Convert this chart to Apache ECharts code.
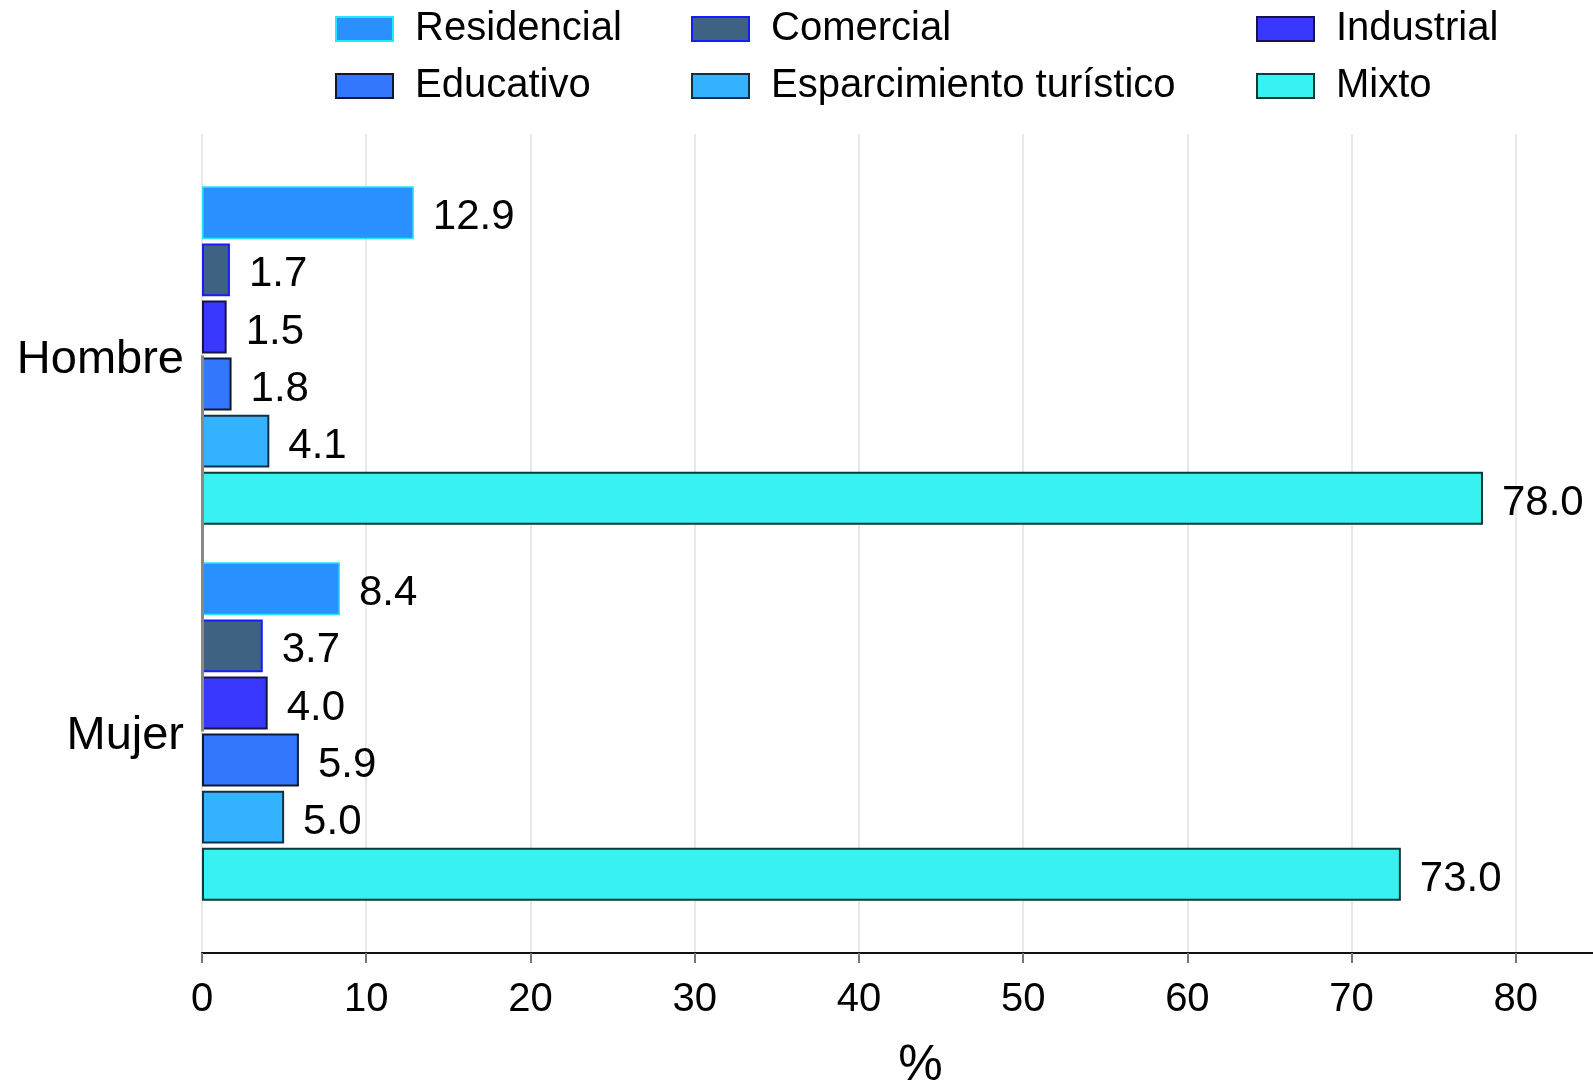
<!DOCTYPE html>
<html>
<head>
<meta charset="utf-8">
<script src="https://cdn.jsdelivr.net/npm/echarts@6/dist/echarts.min.js"></script>
<style>
html,body{margin:0;padding:0;background:#fff;}
#chart{width:1593px;height:1086px;}
</style>
</head>
<body>
<div id="chart"></div>
<script>
const categories = ['Hombre', 'Mujer'];
const seriesNames = ['Residencial', 'Comercial', 'Industrial', 'Educativo', 'Esparcimiento turístico', 'Mixto'];
const residencial = [12.9, 8.4];
const comercial = [1.7, 3.7];
const industrial = [1.5, 4.0];
const educativo = [1.8, 5.9];
const esparcimiento = [4.1, 5.0];
const mixto = [78.0, 73.0];
const xTicks = [0, 10, 20, 30, 40, 50, 60, 70, 80];

const values = [residencial, comercial, industrial, educativo, esparcimiento, mixto];
const fills = ['#2a8fff', '#3d6282', '#3838ff', '#3377ff', '#35b2ff', '#38f2f2'];
const borders = ['#22e8ff', '#1a1aff', '#15154a', '#101830', '#10304a', '#103838'];
const borderW = [1.5, 2, 2, 2, 2, 2];

const FONT = "'Liberation Sans', Arial, Helvetica, sans-serif";
const X_MAX = 87.5;

const chart = echarts.init(document.getElementById('chart'));

const series = seriesNames.map((name, i) => ({
  name: name,
  type: 'bar',
  xAxisIndex: 1,
  yAxisIndex: 1,
  data: values[i],
  barCategoryGap: '10%',
  barGap: '8%',
  itemStyle: { color: fills[i], borderColor: borders[i], borderWidth: borderW[i] },
  label: {
    show: true,
    position: 'right',
    distance: 19,
    offset: [0, 5],
    color: '#000',
    fontFamily: FONT,
    fontSize: 42,
    formatter: p => p.value.toFixed(1)
  },
  emphasis: { disabled: true },
  animation: false
}));

// zero reference line between the category centres
series.push({
  name: 'zeroLine',
  type: 'line',
  xAxisIndex: 1,
  yAxisIndex: 1,
  data: [],
  clip: false,
  silent: true,
  z: 10,
  markLine: {
    silent: true,
    symbol: 'none',
    animation: false,
    label: { show: false },
    lineStyle: { color: '#888888', width: 3, type: 'solid' },
    data: [[{ coord: [0, categories[0]] }, { coord: [0, categories[categories.length - 1]] }]]
  }
});

const legendCommon = {
  orient: 'vertical',
  top: 9,
  padding: 0,
  itemWidth: 57,
  itemHeight: 24,
  itemGap: 17,
  icon: 'rect',
  selectedMode: false,
  textStyle: { fontFamily: FONT, fontSize: 40, color: '#000', padding: [0, 0, 0, 17] }
};

const option = {
  backgroundColor: '#fff',
  animation: false,
  legend: [
    Object.assign({}, legendCommon, { left: 335, data: [seriesNames[0], seriesNames[3]] }),
    Object.assign({}, legendCommon, { left: 691, data: [seriesNames[1], seriesNames[4]] }),
    Object.assign({}, legendCommon, { left: 1256, data: [seriesNames[2], seriesNames[5]] })
  ],
  grid: [
    { left: 202, width: 1437, top: 134, height: 819, containLabel: false, outerBoundsMode: 'none' },
    { left: 202, width: 1437, top: 167.5, height: 752, containLabel: false, outerBoundsMode: 'none' }
  ],
  xAxis: [
    {
      gridIndex: 0,
      type: 'value',
      min: 0,
      max: X_MAX,
      interval: 10,
      name: '%',
      nameLocation: 'middle',
      nameGap: 88,
      nameTextStyle: { fontFamily: FONT, fontSize: 50, color: '#000' },
      axisLine: { show: true, lineStyle: { color: '#111', width: 2 } },
      axisTick: { show: true, length: 10, lineStyle: { color: '#777', width: 2 }, customValues: xTicks },
      axisLabel: {
        fontFamily: FONT, fontSize: 40, color: '#000', margin: 27,
        customValues: xTicks
      },
      splitLine: { show: true, lineStyle: { color: '#e8e8e8', width: 2 } }
    },
    {
      gridIndex: 1,
      type: 'value',
      min: 0,
      max: X_MAX,
      show: false,
      splitLine: { show: false }
    }
  ],
  yAxis: [
    {
      gridIndex: 0,
      type: 'value',
      min: 0,
      max: 1,
      show: false,
      splitLine: { show: false }
    },
    {
      gridIndex: 1,
      type: 'category',
      inverse: true,
      data: categories,
      axisLine: { show: false },
      axisTick: { show: false },
      axisLabel: {
        margin: 18,
        formatter: v => '{c|' + v + '}',
        rich: { c: { fontFamily: FONT, fontSize: 47, color: '#000', padding: [10, 0, 0, 0] } }
      }
    }
  ],
  series: series
};

chart.setOption(option);
</script>
</body>
</html>
